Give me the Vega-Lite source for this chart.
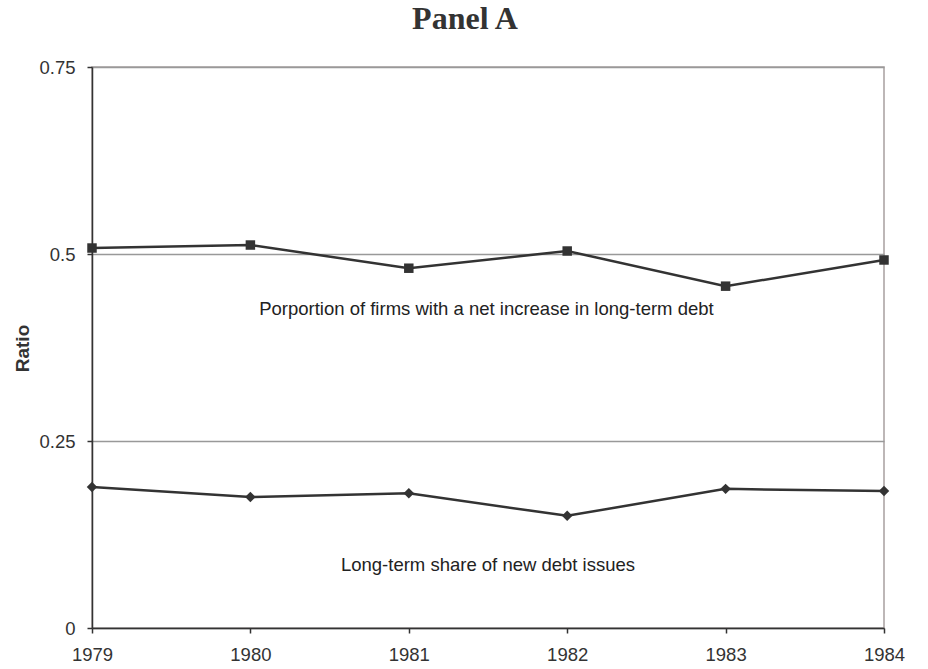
{
  "$schema": "https://vega.github.io/schema/vega-lite/v6.json",
  "autosize": "none",
  "width": 792,
  "height": 561,
  "padding": {"left": 92, "top": 67, "right": 44, "bottom": 41},
  "background": "white",
  "title": {
    "text": "Panel A",
    "font": "Liberation Serif",
    "fontSize": 32,
    "fontWeight": "bold",
    "color": "#333",
    "anchor": "middle",
    "dx": -23,
    "offset": 22
  },
  "config": {
    "view": {"stroke": "#a8a0a0", "strokeWidth": 1.5},
    "axis": {
      "labelFont": "Liberation Sans",
      "labelFontSize": 18.5,
      "labelColor": "#333",
      "labelFlush": false,
      "titleFont": "Liberation Sans",
      "domainColor": "#333",
      "domainWidth": 1.5,
      "tickColor": "#333",
      "tickWidth": 1.5,
      "tickSize": 5
    }
  },
  "datasets": {
    "series": [
      {"year": 1979, "value": 0.508, "series": "Proportion"},
      {"year": 1980, "value": 0.512, "series": "Proportion"},
      {"year": 1981, "value": 0.481, "series": "Proportion"},
      {"year": 1982, "value": 0.504, "series": "Proportion"},
      {"year": 1983, "value": 0.457, "series": "Proportion"},
      {"year": 1984, "value": 0.492, "series": "Proportion"},
      {"year": 1979, "value": 0.1885, "series": "Share"},
      {"year": 1980, "value": 0.175, "series": "Share"},
      {"year": 1981, "value": 0.180, "series": "Share"},
      {"year": 1982, "value": 0.150, "series": "Share"},
      {"year": 1983, "value": 0.186, "series": "Share"},
      {"year": 1984, "value": 0.183, "series": "Share"}
    ],
    "labels": [
      {"year": 1981.49, "value": 0.4265, "label": "Porportion of firms with a net increase in long-term debt"},
      {"year": 1981.5, "value": 0.084, "label": "Long-term share of new debt issues"}
    ]
  },
  "encoding": {
    "x": {
      "field": "year",
      "type": "quantitative",
      "scale": {"domain": [1979, 1984], "nice": false, "zero": false},
      "axis": {"title": null, "format": "d", "values": [1979, 1980, 1981, 1982, 1983, 1984], "grid": false, "labelPadding": 12}
    },
    "y": {
      "field": "value",
      "type": "quantitative",
      "scale": {"domain": [0, 0.75], "nice": false},
      "axis": {
        "title": "Ratio",
        "titleFontSize": 19,
        "titleFontWeight": "bold",
        "titleColor": "#333",
        "titleX": -70,
        "titleY": 281,
        "titleAngle": -90,
        "titleBaseline": "middle",
        "titleAlign": "center",
        "values": [0, 0.25, 0.5, 0.75],
        "labelExpr": "datum.value == 0 ? '0' : format(datum.value, '.2~f')",
        "grid": true,
        "gridColor": "#999",
        "gridWidth": 1.3,
        "labelPadding": 12
      }
    }
  },
  "layer": [
    {
      "data": {"name": "series"},
      "mark": {"type": "line", "color": "#333", "strokeWidth": 2.5},
      "encoding": {"detail": {"field": "series"}}
    },
    {
      "data": {"name": "series"},
      "transform": [{"filter": "datum.series == 'Proportion'"}],
      "mark": {"type": "point", "shape": "square", "filled": true, "color": "#333", "size": 90, "opacity": 1}
    },
    {
      "data": {"name": "series"},
      "transform": [{"filter": "datum.series == 'Share'"}],
      "mark": {"type": "point", "shape": "diamond", "filled": true, "color": "#333", "size": 110, "opacity": 1}
    },
    {
      "data": {"name": "labels"},
      "mark": {"type": "text", "font": "Liberation Sans", "fontSize": 18.5, "color": "#222", "align": "center", "baseline": "middle"},
      "encoding": {"text": {"field": "label"}}
    }
  ]
}
